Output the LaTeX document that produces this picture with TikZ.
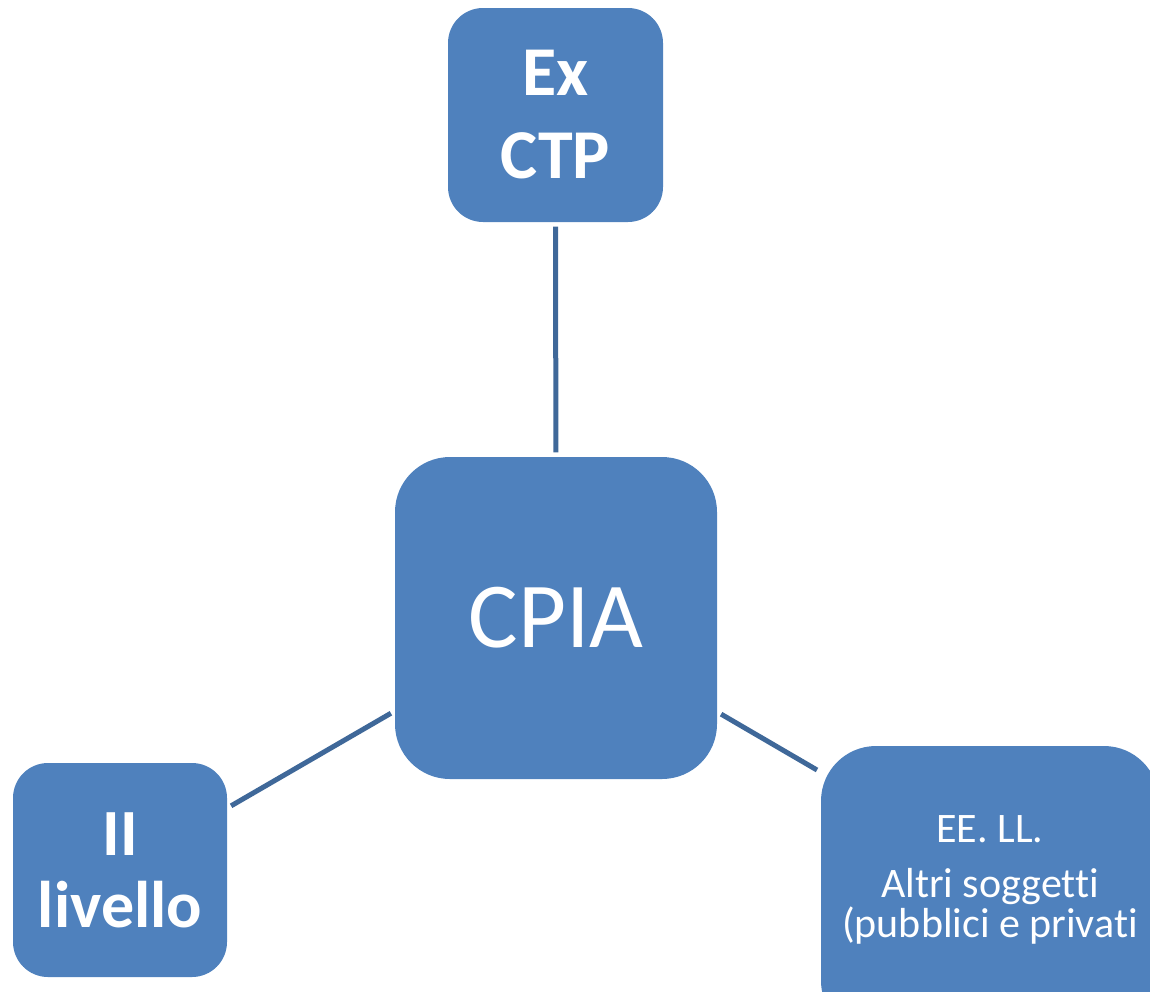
\documentclass[tikz,border=0pt]{standalone}
\usepackage{fontspec}
\setmainfont[Ligatures=NoCommon]{Carlito}
\definecolor{boxblue}{HTML}{4F81BD}
\definecolor{linkblue}{HTML}{3F6899}
\begin{document}
\begin{tikzpicture}[x=1pt,y=-1pt,
  box/.style={fill=boxblue, draw=none, text=white, align=center, inner sep=0pt},
  link/.style={draw=linkblue, line width=5pt, shorten <=4.5pt, shorten >=4.5pt}]
\clip (0,0) rectangle (1150,991);
\node[box, minimum width=215pt, minimum height=214pt, rounded corners=35pt,
      font=\bfseries\fontsize{70}{83}\selectfont] (ctp) at (555.5,115) {Ex\\CTP};
\node[box, minimum width=322pt, minimum height=322pt, rounded corners=55pt,
      font=\fontsize{93}{100}\selectfont] (cpia) at (556,618) {CPIA};
\node[box, minimum width=214pt, minimum height=214pt, rounded corners=35pt,
      font=\bfseries\fontsize{66}{72}\selectfont] (lev) at (120,870) {II\\livello};
\node[box, minimum width=338pt, minimum height=290pt, rounded corners=55pt] (ee) at (990,891) {};
\node[text=white, align=center, inner sep=0pt, font=\fontsize{42}{40}\selectfont] (eetext) at (990,880)
  {EE. LL.\\[15pt]Altri soggetti\\(pubblici e privati};
\coordinate (eein) at (817,770);
\draw[link] (ctp) -- (cpia);
\draw[link] (lev) -- (cpia);
\draw[link, shorten >=0pt] (cpia) -- (eein);
\end{tikzpicture}
\end{document}
